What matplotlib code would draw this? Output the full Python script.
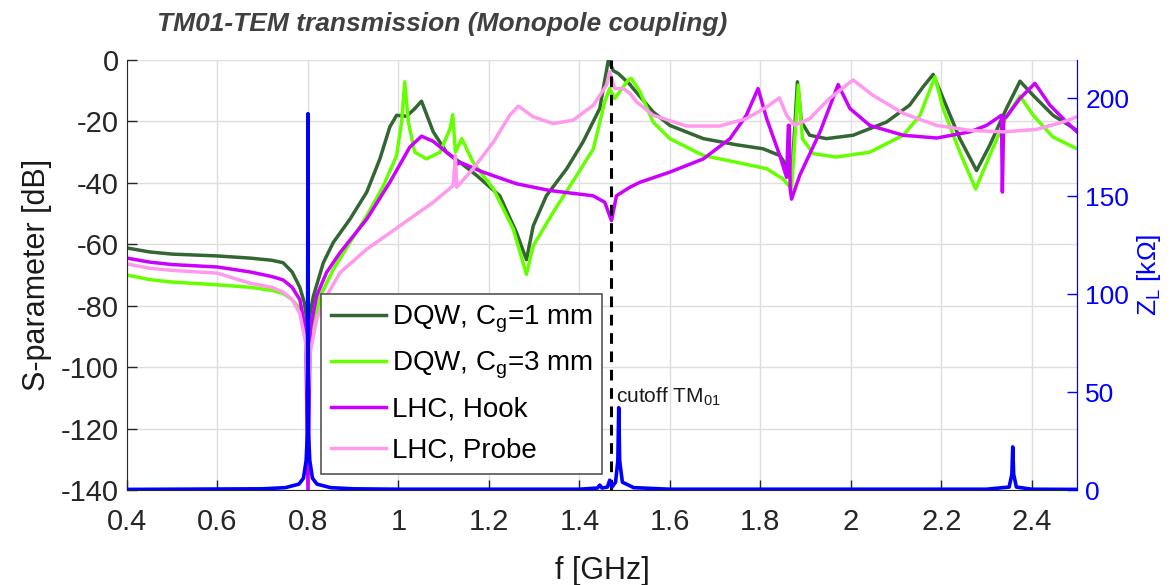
import matplotlib
matplotlib.use("Agg")
import matplotlib.pyplot as plt
import numpy as np

plt.rcParams["font.family"] = ["Liberation Sans", "DejaVu Sans"]
plt.rcParams["axes.unicode_minus"] = False
plt.rcParams["mathtext.fontset"] = "custom"
plt.rcParams["mathtext.rm"] = "Liberation Sans"
plt.rcParams["mathtext.it"] = "Liberation Sans"

# S-parameter curves [dB]
f_dqw1 = [0.40, 0.45, 0.50, 0.60, 0.672, 0.72, 0.745, 0.765, 0.782, 0.792, 0.797, 0.800, 0.803,
          0.812, 0.834, 0.856, 0.893, 0.930, 0.959, 0.981, 0.996, 1.018, 1.035, 1.051, 1.077,
          1.106, 1.136, 1.173, 1.224, 1.261, 1.283, 1.298, 1.327, 1.372, 1.408, 1.445, 1.464,
          1.475, 1.486, 1.512, 1.519, 1.563, 1.600, 1.674, 1.747, 1.806, 1.843, 1.858, 1.865,
          1.870, 1.882, 1.891, 1.909, 1.946, 2.005, 2.079, 2.130, 2.160, 2.182, 2.204, 2.241,
          2.278, 2.307, 2.344, 2.374, 2.403, 2.447, 2.500]
s_dqw1 = [-61.2, -62.5, -63.2, -63.8, -64.5, -65.2, -66.0, -69.0, -74.0, -79.0, -84.0, -95.0, -84.0,
          -76.9, -66.0, -59.4, -51.8, -43.0, -32.2, -21.8, -18.0, -18.3, -16.0, -13.4, -23.4,
          -30.0, -33.3, -37.6, -44.2, -56.2, -65.0, -54.0, -44.2, -35.4, -26.7, -15.8, 0.0,
          -3.5, -4.4, -8.0, -9.3, -16.9, -21.3, -25.6, -27.6, -28.9, -31.1, -34.4, -36.5,
          -37.0, -7.1, -20.2, -24.5, -25.6, -24.5, -20.2, -14.7, -8.7, -4.7, -12.5, -25.6,
          -36.0, -27.8, -15.8, -6.9, -11.5, -18.0, -22.9]

f_dqw3 = [0.40, 0.45, 0.50, 0.60, 0.672, 0.72, 0.745, 0.765, 0.782, 0.795, 0.800, 0.805, 0.827,
          0.856, 0.893, 0.930, 0.967, 0.996, 1.007, 1.014, 1.022, 1.036, 1.062, 1.092, 1.114,
          1.120, 1.126, 1.140, 1.165, 1.210, 1.254, 1.283, 1.298, 1.342, 1.394, 1.431, 1.456,
          1.467, 1.478, 1.489, 1.508, 1.515, 1.534, 1.563, 1.600, 1.674, 1.747, 1.814, 1.850,
          1.869, 1.884, 1.893, 1.917, 1.968, 2.042, 2.116, 2.153, 2.186, 2.204, 2.241, 2.276,
          2.307, 2.344, 2.374, 2.403, 2.447, 2.500]
s_dqw3 = [-70.0, -71.5, -72.3, -73.2, -74.0, -75.0, -76.0, -78.0, -81.0, -90.0, -108.0, -92.0, -76.9,
          -68.2, -59.4, -50.7, -40.9, -31.1, -20.2, -7.1, -20.2, -30.0, -32.2, -30.0, -22.4,
          -17.8, -30.0, -25.6, -33.3, -42.0, -55.1, -69.8, -60.5, -49.6, -37.6, -28.9, -13.6,
          -9.3, -12.5, -10.4, -6.5, -6.0, -10.4, -20.2, -25.6, -31.1, -33.3, -35.4, -38.7,
          -42.0, -8.2, -25.6, -30.5, -31.6, -30.0, -24.5, -18.0, -5.5, -15.8, -30.0, -42.0,
          -31.1, -18.5, -11.7, -18.0, -25.1, -28.9]

f_hook = [0.40, 0.45, 0.50, 0.60, 0.672, 0.72, 0.745, 0.765, 0.782, 0.795, 0.800, 0.805, 0.819,
          0.841, 0.871, 0.930, 0.981, 1.025, 1.051, 1.077, 1.106, 1.125, 1.129, 1.136, 1.187,
          1.261, 1.335, 1.430, 1.456, 1.471, 1.482, 1.512, 1.534, 1.600, 1.674, 1.733, 1.769,
          1.795, 1.814, 1.843, 1.858, 1.862, 1.864, 1.866, 1.869, 1.887, 1.932, 1.972, 1.998,
          2.042, 2.116, 2.190, 2.263, 2.300, 2.333, 2.335, 2.338, 2.344, 2.374, 2.407, 2.440,
          2.477, 2.500]
s_hook = [-64.5, -65.8, -66.6, -67.4, -69.0, -70.5, -71.6, -74.0, -78.0, -88.0, -140.0, -88.0, -76.9,
          -69.2, -62.7, -51.8, -39.8, -28.4, -24.8, -26.5, -30.0, -32.2, -34.0, -33.3, -36.5,
          -40.3, -42.5, -44.2, -46.3, -52.3, -44.2, -41.4, -39.8, -36.5, -32.2, -25.6, -18.0,
          -9.3, -19.1, -31.1, -38.2, -21.3, -21.3, -42.0, -45.3, -37.6, -23.4, -8.0, -15.8,
          -21.3, -24.5, -25.4, -23.4, -21.3, -18.0, -43.0, -19.0, -18.5, -12.5, -7.6, -14.7,
          -20.2, -23.4]

f_probe = [0.40, 0.45, 0.50, 0.60, 0.672, 0.72, 0.745, 0.765, 0.782, 0.795, 0.800, 0.805, 0.820,
           0.841, 0.871, 0.930, 1.003, 1.077, 1.121, 1.126, 1.129, 1.165, 1.210, 1.246, 1.265,
           1.298, 1.342, 1.386, 1.431, 1.460, 1.467, 1.478, 1.497, 1.512, 1.526, 1.563, 1.637,
           1.710, 1.769, 1.814, 1.842, 1.858, 1.876, 1.909, 1.953, 2.005, 2.049, 2.116, 2.190,
           2.263, 2.337, 2.410, 2.469, 2.500]
s_probe = [-66.4, -67.8, -68.5, -69.4, -72.7, -74.0, -75.5, -78.0, -82.5, -92.0, -110.0, -95.0, -84.0,
           -76.9, -69.2, -61.6, -54.0, -46.3, -40.9, -31.1, -41.4, -35.4, -26.7, -18.0, -15.0,
           -18.5, -20.7, -19.6, -14.7, -8.2, -3.8, -9.3, -9.3, -10.9, -13.6, -18.0, -21.5,
           -21.5, -19.1, -15.3, -12.3, -18.0, -21.3, -19.1, -12.5, -6.5, -11.5, -17.4, -21.3,
           -22.9, -23.4, -22.6, -20.2, -18.5]

# longitudinal impedance Z_L [kOhm]
f_zl = [0.40, 0.70, 0.75, 0.78, 0.79, 0.796, 0.799, 0.800, 0.801, 0.804, 0.810, 0.820, 0.850,
        0.900, 1.000, 1.400, 1.440, 1.445, 1.450, 1.462, 1.467, 1.472, 1.480, 1.485, 1.487,
        1.489, 1.495, 1.520, 1.600, 2.300, 2.350, 2.356, 2.358, 2.360, 2.366, 2.400, 2.500]
z_l = [0.3, 0.6, 1.2, 3.0, 6.0, 15.0, 30.0, 192.0, 30.0, 15.0, 6.0, 3.0, 1.2,
       0.6, 0.4, 0.4, 1.0, 2.5, 1.0, 1.5, 5.0, 1.5, 4.0, 15.0, 42.0,
       15.0, 4.0, 1.2, 0.4, 0.4, 1.5, 8.0, 22.0, 8.0, 1.5, 0.4, 0.3]

series = [
    ("DQW, C$_\\mathregular{g}$=1 mm", f_dqw1, s_dqw1, "#336633"),
    ("DQW, C$_\\mathregular{g}$=3 mm", f_dqw3, s_dqw3, "#66ff00"),
    ("LHC, Hook", f_hook, s_hook, "#cc00ff"),
    ("LHC, Probe", f_probe, s_probe, "#ff99ee"),
]
f_cutoff = 1.47

fig = plt.figure(figsize=(11.73, 5.85), dpi=100)
ax = fig.add_axes([127 / 1173, 1 - 490 / 585, 950 / 1173, 430 / 585])
ax2 = ax.twinx()

for label, f, s, color in series:
    ax.plot(f, s, color=color, lw=2.5, label=label, solid_joinstyle="round")

ax.axvline(f_cutoff, color="black", lw=2.2, ls=(0, (3.5, 2.5)))
ax.text(f_cutoff + 0.012, -111.5, "cutoff TM$_{\\mathregular{01}}$", fontsize=15, color="#1a1a1a",
        va="baseline", ha="left")

ax2.plot(f_zl, z_l, color="#0000ff", lw=2.6, solid_joinstyle="round")

ax.set_xlim(0.4, 2.5)
ax.set_ylim(-140, 0)
ax2.set_ylim(0, 219.4)
ax.set_xticks(np.arange(0.4, 2.41, 0.2))
ax.set_xticklabels(["0.4", "0.6", "0.8", "1", "1.2", "1.4", "1.6", "1.8", "2", "2.2", "2.4"])
ax.set_yticks(np.arange(-140, 1, 20))
ax2.set_yticks([0, 50, 100, 150, 200])

ax.grid(True, color="#dedede", lw=1.0)
ax.set_axisbelow(True)
ax.tick_params(direction="in", length=7, width=1, labelsize=21, colors="#262626", pad=6)
ax.tick_params(axis="x", pad=13)
ax2.tick_params(direction="in", length=7, width=1, labelsize=19, colors="#0000ff", pad=6)

ax.spines["top"].set_visible(False)
ax2.spines["top"].set_visible(False)
ax.spines["left"].set_color("#262626")
ax.spines["bottom"].set_color("#262626")
ax2.spines["right"].set_color("#0000ff")
ax2.spines["left"].set_visible(False)
ax2.spines["bottom"].set_visible(False)

ax.set_xlabel("f [GHz]", fontsize=22, color="#1a1a1a", labelpad=14)
ax.set_ylabel("S-parameter [dB]", fontsize=22, color="#1a1a1a", labelpad=6)
ax2.set_ylabel("Z$_\\mathregular{L}$ [kΩ]", fontsize=19, color="#0000ff", labelpad=4)

leg = ax.legend(loc="lower left", bbox_to_anchor=(0.204, 0.038), fontsize=20, frameon=True,
                fancybox=False, edgecolor="#555555", framealpha=1, handlelength=2.0,
                borderpad=0.35, labelspacing=0.55, handletextpad=0.2, borderaxespad=0)
leg.get_frame().set_linewidth(1.2)

fig.text(157 / 1173, 1 - 24 / 585, "TM01-TEM transmission (Monopole coupling)",
         family=["Liberation Sans Narrow", "Liberation Sans"], fontsize=19, fontweight="bold",
         fontstyle="italic", color="#404040", va="center", ha="left")

fig.savefig("out.png", dpi=100)
